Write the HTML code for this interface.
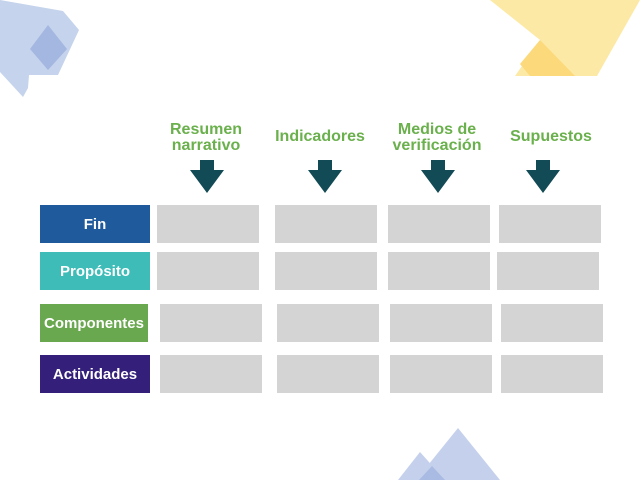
<!DOCTYPE html>
<html><head><style>
body{margin:0;width:640px;height:480px;background:#fff;position:relative;overflow:hidden;font-family:"Liberation Sans",sans-serif}
.l{position:absolute;color:#fff;font-weight:bold;font-size:15px;display:flex;align-items:center;justify-content:center}
.c{position:absolute;background:#d4d4d4;height:38px;width:102px}
.h{position:absolute;color:#6ab04c;font-weight:bold;font-size:16px;text-align:center;line-height:16px;transform:translateX(-50%);white-space:nowrap}
</style></head><body>
<svg width="640" height="480" style="position:absolute;left:0;top:0">
<polygon points="0,0 63,11 79,30 58,75 29,75 28,88 23,97 0,72" fill="#c5d3ec"/>
<polygon points="48,25 67,49 48,70 30,49" fill="#a3b7e1"/>
<polygon points="490,0 640,0 597,76 515,76 540,40" fill="#fde9a6"/>
<polygon points="540,40 575,76 530,76 520,64" fill="#fcd97a"/>
<polygon points="458,428 500,480 416,480" fill="#c5d1ec"/>
<polygon points="420,452 445,480 398,480" fill="#c5d1ec"/>
<polygon points="432,466 445,480 419,480" fill="#a9bbe2"/>
<g fill="#124a55">
<path d="M200,160h14v10h10l-17,23l-17,-23h10z"/>
<path d="M318,160h14v10h10l-17,23l-17,-23h10z"/>
<path d="M431,160h14v10h10l-17,23l-17,-23h10z"/>
<path d="M536,160h14v10h10l-17,23l-17,-23h10z"/>
</g>
</svg>
<div class="h" style="left:206px;top:122px">Resumen<br>narrativo</div>
<div class="h" style="left:320px;top:129px">Indicadores</div>
<div class="h" style="left:437px;top:122px">Medios de<br>verificación</div>
<div class="h" style="left:551px;top:129px">Supuestos</div>
<div class="l" style="left:40px;top:205px;width:110px;height:38px;background:#1f5a9c">Fin</div>
<div class="l" style="left:40px;top:252px;width:110px;height:38px;background:#3dbcb8">Propósito</div>
<div class="l" style="left:40px;top:304px;width:108px;height:38px;background:#6aa84f">Componentes</div>
<div class="l" style="left:40px;top:355px;width:110px;height:38px;background:#34207a">Actividades</div>
<div class="c" style="left:157px;top:205px"></div><div class="c" style="left:275px;top:205px"></div><div class="c" style="left:388px;top:205px"></div><div class="c" style="left:499px;top:205px"></div>
<div class="c" style="left:157px;top:252px"></div><div class="c" style="left:275px;top:252px"></div><div class="c" style="left:388px;top:252px"></div><div class="c" style="left:497px;top:252px"></div>
<div class="c" style="left:160px;top:304px"></div><div class="c" style="left:277px;top:304px"></div><div class="c" style="left:390px;top:304px"></div><div class="c" style="left:501px;top:304px"></div>
<div class="c" style="left:160px;top:355px"></div><div class="c" style="left:277px;top:355px"></div><div class="c" style="left:390px;top:355px"></div><div class="c" style="left:501px;top:355px"></div>
</body></html>
